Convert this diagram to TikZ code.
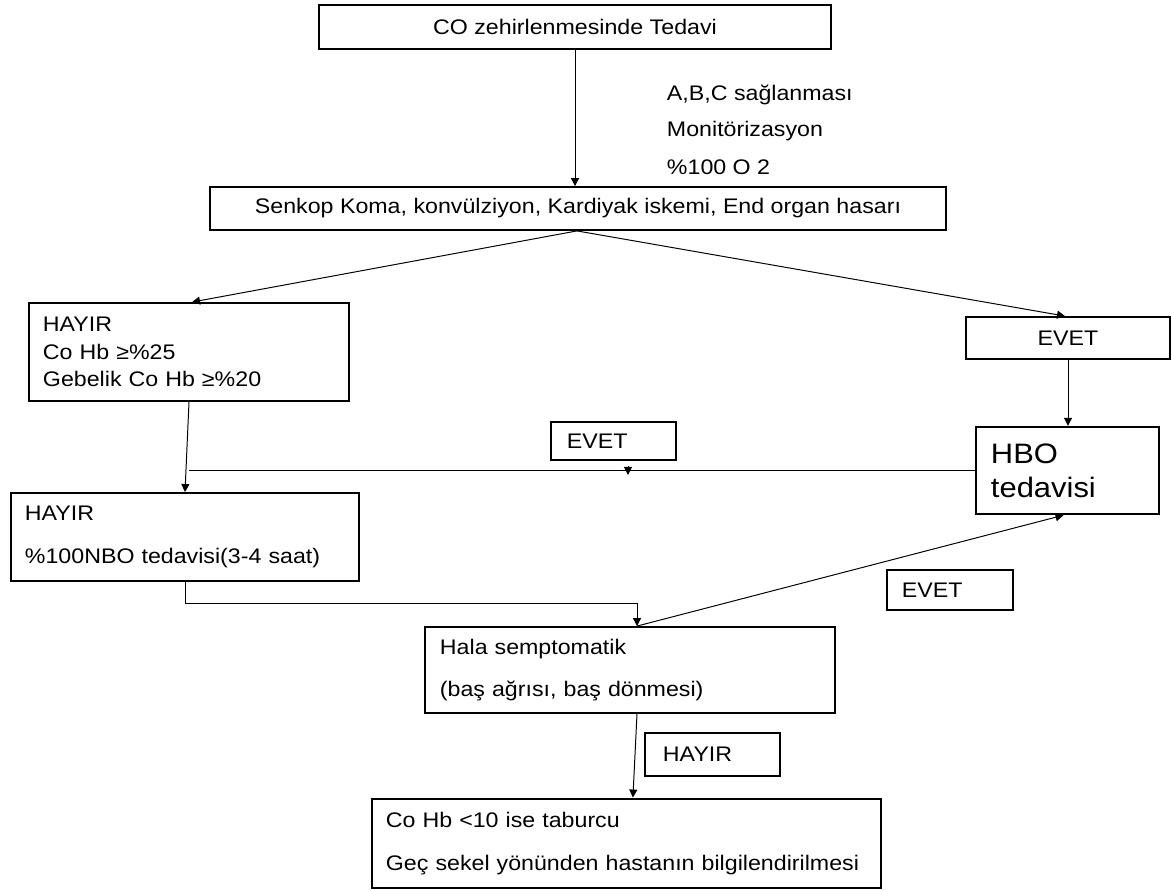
\documentclass[tikz,border=0pt]{standalone}
\usepackage{fontspec}
\setmainfont[FakeStretch=1.1]{Liberation Sans}
\usetikzlibrary{arrows.meta}

\begin{document}
\begin{tikzpicture}[x=0.025cm, y=-0.025cm,
  font=\fontsize{15}{19}\selectfont,
  box/.style={draw, line width=1.3pt, inner ysep=0pt},
  lbox/.style={box, align=left, text width=#1},
  arr/.style={-{Triangle[length=2mm,width=2mm]}, line width=0.7pt}]
\useasboundingbox (0,0) rectangle (1172,891);

% boxes
\node[box, minimum width=12.8cm, minimum height=1.1cm] (start) at (575,27) {CO zehirlenmesinde Tedavi};
\node[anchor=west, align=left] (steps) at (662,130) {A,B,C sağlanması\\[7pt]Monitörizasyon\\[8pt]\%100 O 2};
\node[box, minimum width=18.4cm, minimum height=1.075cm] (signs) at (578,208.5)
  {Senkop Koma, konvülziyon, Kardiyak iskemi, End organ hasarı};
\node[lbox=7.3cm, inner xsep=0.35cm, minimum height=2.45cm,
  font=\fontsize{15}{19.5}\selectfont] (hayirA) at (189,352)
  {HAYIR\\Co Hb ≥\%25\\Gebelik Co Hb ≥\%20};
\node[box, minimum width=5.1cm, minimum height=1.05cm] (evetA) at (1068,338) {EVET};
\node[lbox=3.825cm, inner xsep=0.375cm, minimum height=2.175cm, line width=1.7pt,
  font=\fontsize{20}{24}\selectfont] (hbo) at (1067.5,470.5) {HBO\\tedavisi};
\node[lbox=2.325cm, inner xsep=0.4cm, minimum height=0.95cm] (evetB) at (613.5,441) {EVET};
\node[lbox=8cm, inner xsep=0.35cm, minimum height=2.2cm] (hayirB) at (185,537)
  {HAYIR\\[11.5pt]\%100NBO tedavisi(3-4 saat)};
\node[lbox=9.5cm, inner xsep=0.375cm, minimum height=2.15cm] (hala) at (630,670)
  {Hala semptomatik\\[11pt](baş ağrısı, baş dönmesi)};
\node[lbox=2.4cm, inner xsep=0.375cm, minimum height=1cm] (evetC) at (950,590) {EVET};
\node[lbox=2.475cm, inner xsep=0.45cm, minimum height=1.075cm] (hayirC) at (712.5,754.5) {HAYIR};
\node[lbox=12.025cm, inner xsep=0.35cm, minimum height=2.225cm, line width=2pt] (done) at (626.5,843.5)
  {Co Hb <10 ise taburcu\\[12pt]Geç sekel yönünden hastanın bilgilendirilmesi};

% connectors
\coordinate (split) at ([xshift=-0.025cm]signs.south);
\coordinate (mark) at (628,466);
\draw[arr] (start.south) -- (start.south |- signs.north);
\draw[arr] (split) -- ([xshift=0.075cm]hayirA.north);
\draw[arr] (split) -- ([xshift=-0.075cm]evetA.north);
\draw[arr] (evetA.south) -- (evetA.south |- hbo.north);
\draw[arr] (hayirA.south) -- (hayirB.north);
\draw[line width=0.7pt] (hbo.west) -- (hbo.west -| hayirA.south);
\draw[arr] (mark) -- ++(0,9);
\draw[arr] (hayirB.south) -- ++(0,22) -| ([xshift=0.175cm]hala.north);
\draw[arr] ([xshift=0.175cm]hala.north) -- ([xshift=-0.1cm]hbo.south);
\draw[arr] ([xshift=0.175cm]hala.south) -- ([xshift=0.16cm]done.north);
\end{tikzpicture}
\end{document}
